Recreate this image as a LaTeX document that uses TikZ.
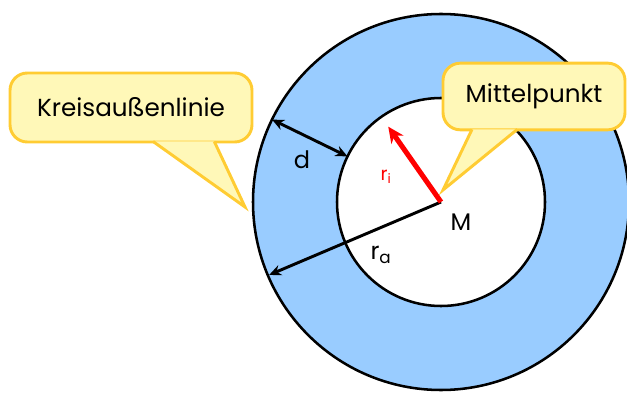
\documentclass[tikz,border=0pt]{standalone}
\usepackage{fontspec}
\setmainfont{Poppins}
\usetikzlibrary{arrows.meta,positioning,calc}
\definecolor{RingBlue}{HTML}{99CCFF}
\definecolor{NoteFill}{HTML}{FFF8B8}
\definecolor{NoteEdge}{HTML}{FFCC33}
\tikzset{
  ring/.style={circle, draw=black, line width=1.9pt, inner sep=0pt, outer sep=0pt},
  note/.style={draw=NoteEdge, fill=NoteFill, line width=2.2pt, rounded corners=13pt,
    inner sep=0pt, font=\fontsize{18.5}{21}\selectfont},
  notetip/.style={draw=NoteEdge, fill=NoteFill, line width=2.2pt, line join=miter},
  measure/.style={line width=2.2pt, -{Stealth[length=9pt,width=8pt]}},
  tag/.style={font=\fontsize{18}{20}\selectfont, inner sep=1pt}
}

\begin{document}
\begin{tikzpicture}[x=0.75pt,y=-0.75pt]
  \useasboundingbox (0,0) rectangle (627,392);
  \clip (0,0) rectangle (627,392);
  \coordinate (M) at (441,202);
  \node[ring, fill=RingBlue, minimum size=282pt] (outer) at (M) {};
  \node[ring, fill=white, minimum size=156pt] (inner) at (M) {};

  \draw[measure, {Stealth[length=9pt,width=8pt]}-{Stealth[length=9pt,width=8pt]}]
    (inner.154) -- (outer.154);
  \draw[measure, shorten >=1pt] (M) -- (outer.203.6);
  \draw[line width=3.8pt, red, -{Stealth[length=12pt,width=11pt]}, shorten >=9pt]
    (M) -- (inner.125.6);

  \node[tag] (dlabel) at (302,160) {d};
  \node[tag] (Mlabel) at (461,222) {M};
  \node[tag] (ralabel) at (381,255) {r\textsubscript{a}};
  \node[tag, red, font=\fontsize{14}{16}\selectfont] (rilabel) at (386,177) {r\textsubscript{i}};

  \node[note, minimum width=181.5pt, minimum height=51.75pt] (outline) at (131,107.5) {Kreisaußenlinie};
  \coordinate (outlinetip) at (245,207);
  \filldraw[notetip] ($(outline.south west)!0.59!(outline.south east)+(0,-2)$)
    -- (outlinetip) -- ($(outline.south west)!0.84!(outline.south east)+(0,-2)$);

  \node[note, minimum width=136.5pt, minimum height=50pt] (centre) at (534,96.5) {Mittelpunkt};
  \coordinate (centretip) at (443,190);
  \filldraw[notetip] ($(centre.south west)!0.165!(centre.south east)+(0,-2)$)
    -- (centretip) -- ($(centre.south west)!0.41!(centre.south east)+(0,-2)$);
\end{tikzpicture}
\end{document}
